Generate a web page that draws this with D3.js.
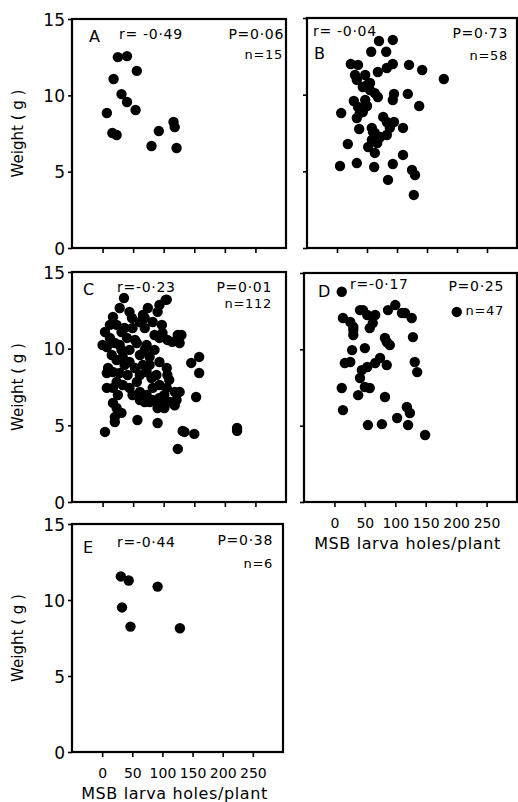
<!DOCTYPE html>
<html><head><meta charset="utf-8">
<script src="https://cdn.jsdelivr.net/npm/d3@7"></script>
<style>
body{margin:0;background:#fff;}
svg{display:block;}
text{font-family:"DejaVu Sans",sans-serif;fill:#000;}
</style></head>
<body>
<svg id="chart" width="518" height="802"></svg>
<script>
// ---- data ----
const xTicks = [0, 50, 100, 150, 200, 250];
const yTicks = [0, 5, 10, 15];
const xDomain = [-50, 300];
const yDomain = [0, 15];
const xTitle = "MSB larva holes/plant";
const yTitle = "Weight ( g )";

const panelLetters = ["A", "B", "C", "D", "E"];
const rLabels = ["r= -0·49", "r= -0·04", "r=-0·23", "r=-0·17", "r=-0·44"];
const pLabels = ["P=0·06", "P=0·73", "P=0·01", "P=0·25", "P=0·38"];
const nLabels = ["n=15", "n=58", "n=112", "n=47", "n=6"];

const pointsA = [[7,8.84],[18,11.07],[16,7.53],[23,7.4],[25,12.5],[40,12.57],[31,10.08],[40,9.56],
  [56,11.6],[54,9.04],[80,6.68],[92,7.66],[116,8.25],[118,7.92],[121,6.55]];

const pointsB = [[70,13.5],[93,13.57],[57,12.8],[82,12.8],[23,12.0],[35,11.94],[30,11.28],[47,11.28],
  [68,11.48],[83,11.74],[93,12.0],[120,11.94],[142,11.61],[178,11.02],[33,10.96],[50,10.63],
  [43,10.5],[55,10.3],[63,10.1],[68,9.85],[95,10.05],[93,9.65],[118,10.05],[137,9.26],
  [28,9.59],[35,9.2],[50,9.26],[38,8.8],[33,8.48],[7,8.8],[43,8.87],[77,8.55],
  [83,8.22],[95,8.22],[110,7.83],[37,7.76],[58,7.83],[63,7.5],[72,7.24],[83,7.37],
  [58,7.05],[52,6.59],[67,6.85],[63,6.2],[18,6.78],[110,6.07],[5,5.35],[33,5.54],
  [62,5.28],[93,5.48],[125,5.09],[130,4.76],[85,4.44],[128,3.46],[60,7.57],[47,9.65],
  [55,10.76],[88,7.83]];

const pointsC = [[35,13.3],[105,13.2],[93,12.85],[90,12.4],[74,12.65],[66,12.2],[61,11.74],[69,11.35],
  [82,11.74],[97,11.55],[98,11.02],[106,10.57],[114,10.44],[123,10.89],[126,10.37],[93,10.7],
  [44,12.4],[48,12.0],[17,12.07],[23,11.55],[31,11.09],[36,11.35],[49,11.35],[12,10.7],
  [7,10.11],[20,10.37],[40,10.7],[31,9.92],[44,9.92],[56,10.37],[72,10.24],[61,9.59],
  [77,9.46],[66,8.94],[77,8.94],[93,9.13],[105,8.74],[106,8.28],[88,8.28],[80,8.09],
  [72,8.48],[61,8.28],[53,8.74],[44,9.13],[33,9.46],[23,9.26],[9,8.74],[7,8.41],
  [17,8.48],[28,8.41],[23,7.83],[7,7.44],[17,7.44],[33,7.63],[44,7.44],[49,6.98],
  [61,7.18],[72,6.98],[61,6.65],[82,6.65],[93,6.78],[93,7.63],[105,7.44],[118,7.18],
  [126,7.18],[121,6.65],[110,6.52],[98,6.46],[88,6.52],[101,6.13],[90,6.13],[77,6.52],
  [69,6.52],[17,6.46],[23,6.13],[31,5.81],[20,5.54],[20,5.22],[57,5.35],[90,5.15],
  [4,4.57],[131,4.63],[123,3.46],[4,11.09],[0,10.24],[158,9.46],[145,9.07],[158,8.41],
  [153,6.85],[134,4.57],[150,4.44],[220,4.83],[220,4.65],[129,10.89],[103,13.18],[12,11.55],
  [53,10.57],[69,9.92],[28,10.24],[85,9.92],[41,8.28],[82,7.44],[109,7.96],[15,9.59],
  [36,8.94],[118,6.3],[56,7.83],[101,6.98],[25,6.98],[69,12.0],[85,10.89],[28,12.65]];

const pointsD = [[12,13.77],[14,12.05],[26,11.79],[31,11.26],[31,10.94],[29,9.95],[42,12.57],[54,12.25],
  [67,12.25],[63,11.72],[58,11.39],[88,12.57],[100,12.9],[111,12.38],[127,12.05],[129,10.8],
  [83,10.74],[91,10.28],[50,10.08],[17,9.1],[26,9.17],[45,8.64],[54,8.84],[67,9.1],
  [75,9.43],[86,8.97],[132,9.17],[136,8.51],[12,7.47],[39,7.0],[50,7.53],[58,7.47],
  [83,6.88],[14,6.02],[119,6.22],[124,5.83],[55,5.04],[78,5.1],[103,5.5],[121,5.04],
  [149,4.39],[201,12.45],[31,11.46],[42,8.12],[47,12.57],[116,12.38],[86,10.48]];

const pointsE = [[31,11.55],[44,11.28],[92,10.88],[33,9.51],[47,8.25],[129,8.14]];

const allPoints = [pointsA, pointsB, pointsC, pointsD, pointsE];

// ---- layout ----
const boxes = [
  {l:72,  r:286, t:19,  b:248, yLab:true,  xLab:false},
  {l:307, r:517, t:18,  b:248, yLab:false, xLab:false},
  {l:72,  r:286, t:272, b:502, yLab:true,  xLab:false},
  {l:304, r:517, t:273, b:502, yLab:false, xLab:true},
  {l:72,  r:283, t:524, b:752, yLab:true,  xLab:true}
];
// annotation positions relative to box
const annot = [
  {letter:[17,23], r:[47,20], p:[-2,20], n:[-3,40]},
  {letter:[7,41],  r:[6,18],  p:[-9,20], n:[-9,42]},
  {letter:[11,23], r:[45,20], p:[-14,20], n:[-14,36]},
  {letter:[14,24], r:[46,16], p:[-13,18], n:[-13,42]},
  {letter:[11,29], r:[45,23], p:[-10,21], n:[-10,44]}
];

const svg = d3.select("#chart");

boxes.forEach((bx, i) => {
  const x = d3.scaleLinear().domain(xDomain).range([bx.l, bx.r]);
  const y = d3.scaleLinear().domain(yDomain).range([bx.b, bx.t]);
  const g = svg.append("g");

  // x axis ticks
  const xa = g.append("g").attr("transform", `translate(0,${bx.b})`)
    .call(d3.axisBottom(x).tickValues(xTicks).tickSize(5).tickSizeOuter(0)
      .tickFormat(bx.xLab ? d3.format("d") : () => ""));
  xa.select(".domain").remove();
  xa.selectAll("line").attr("stroke", "#000").attr("stroke-width", 1.6);
  xa.selectAll("text").attr("font-size", 14).attr("dy", "1.25em");

  // y axis ticks
  const ya = g.append("g").attr("transform", `translate(${bx.l},0)`)
    .call(d3.axisLeft(y).tickValues(yTicks).tickSize(4).tickSizeOuter(0)
      .tickFormat(bx.yLab ? d3.format("d") : () => ""));
  ya.select(".domain").remove();
  ya.selectAll("line").attr("stroke", "#000").attr("stroke-width", 1.6);
  ya.selectAll("text").attr("font-size", 17).attr("x", -7).attr("dy", "0.36em");

  // frame
  g.append("rect").attr("x", bx.l).attr("y", bx.t)
    .attr("width", bx.r - bx.l).attr("height", bx.b - bx.t)
    .attr("fill", "none").attr("stroke", "#000").attr("stroke-width", 2.2);

  // points
  g.append("g").selectAll("circle").data(allPoints[i]).join("circle")
    .attr("cx", d => x(d[0])).attr("cy", d => y(d[1])).attr("r", 5.2).attr("fill", "#000");

  // annotations
  const a = annot[i];
  g.append("text").attr("x", bx.l + a.letter[0]).attr("y", bx.t + a.letter[1])
    .attr("font-size", 16).text(panelLetters[i]);
  g.append("text").attr("x", bx.l + a.r[0]).attr("y", bx.t + a.r[1])
    .attr("font-size", 14).attr("letter-spacing", 0.7).text(rLabels[i]);
  g.append("text").attr("x", bx.r + a.p[0]).attr("y", bx.t + a.p[1])
    .attr("font-size", 14).attr("letter-spacing", 0.7).attr("text-anchor", "end").text(pLabels[i]);
  g.append("text").attr("x", bx.r + a.n[0]).attr("y", bx.t + a.n[1])
    .attr("font-size", 13).attr("letter-spacing", 0.7).attr("text-anchor", "end").text(nLabels[i]);

  // y title
  if (bx.yLab) {
    const cy = (bx.t + bx.b) / 2;
    g.append("text").attr("transform", `translate(23,${cy}) rotate(-90)`)
      .attr("text-anchor", "middle").attr("font-size", 15).text(yTitle);
  }
  // x title
  if (bx.xLab) {
    g.append("text").attr("x", (bx.l + bx.r) / 2 - 3).attr("y", bx.b + 47)
      .attr("text-anchor", "middle").attr("font-size", 16).attr("letter-spacing", 0.6).text(xTitle);
  }
});
</script>
</body></html>
